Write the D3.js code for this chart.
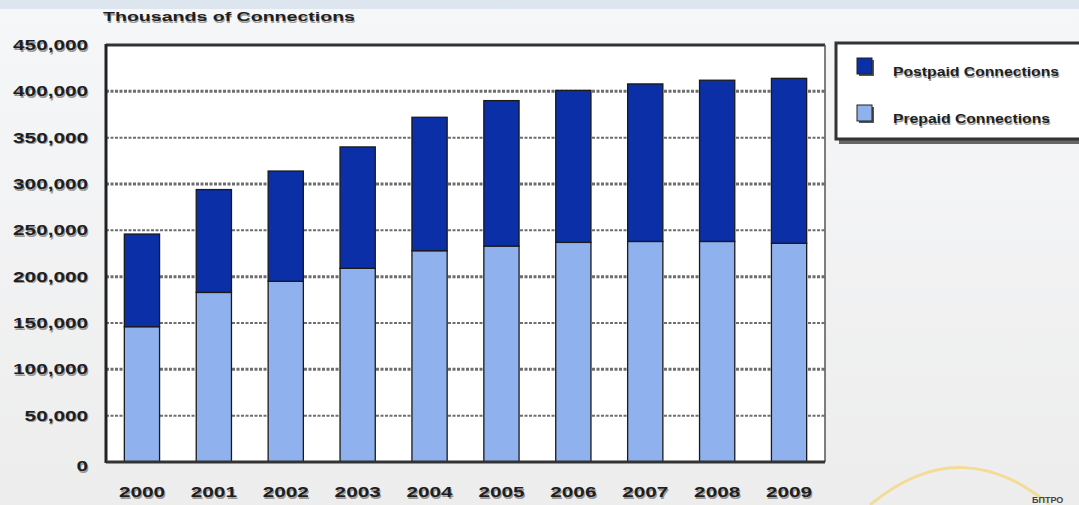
<!DOCTYPE html>
<html><head><meta charset="utf-8">
<script src="https://cdn.jsdelivr.net/npm/d3@7"></script>
<style>body{margin:0;background:#f1f1f1;}svg{display:block;font-family:Arial,"Liberation Sans",sans-serif;}</style>
</head><body><svg id="c" width="1079" height="505"></svg>
<script>
const years = ["2000","2001","2002","2003","2004","2005","2006","2007","2008","2009"];
const prepaid = [146000,183000,195000,209000,228000,233000,237000,238000,238000,236000];
const postpaid = [100000,111000,119000,131000,144000,157000,164000,170000,174000,178000];
const yTicks = [0,50000,100000,150000,200000,250000,300000,350000,400000,450000];
const seriesNames = ["Postpaid Connections","Prepaid Connections"];
const colors = {post:"#0b2fa6", pre:"#8fb1ee"};

const svg = d3.select("#c");
const W=1079,H=505;
const m = {l:106, r:825, t:45, b:462};
const SX = 1.43;

const defs = svg.append("defs");
const g1 = defs.append("linearGradient").attr("id","bg").attr("x1",0).attr("y1",0).attr("x2",0).attr("y2",1);
g1.append("stop").attr("offset","0").attr("stop-color","#f6f7f9");
g1.append("stop").attr("offset","1").attr("stop-color","#ededed");
svg.append("rect").attr("width",W).attr("height",H).attr("fill","url(#bg)");
svg.append("rect").attr("width",W).attr("height",9).attr("fill","#dde5ee");
svg.append("path").attr("d","M870,505 Q960,430 1050,505").attr("fill","none").attr("stroke","#f3dc98").attr("stroke-width",3);
svg.append("text").attr("x",1032).attr("y",503).attr("font-size",9).attr("font-weight","bold").attr("fill","#444").text("БПТРО");

const x = d3.scaleBand().domain(years).range([m.l,m.r]).paddingInner(0.51).paddingOuter(0.255);
const y = d3.scaleLinear().domain([0,450000]).range([m.b,m.t]);

svg.append("rect").attr("x",m.l).attr("y",m.t).attr("width",m.r-m.l).attr("height",m.b-m.t).attr("fill","#ffffff");

svg.append("g").selectAll("line").data(yTicks.filter(d=>d>0 && d<450000)).join("line")
 .attr("x1",m.l).attr("x2",m.r).attr("y1",d=>y(d)).attr("y2",d=>y(d))
 .attr("stroke","#555").attr("stroke-width",d=>(d/50000)%2===0?3:2).attr("stroke-dasharray","3,1.5").attr("opacity",0.85);

const data = years.map((yr,i)=>({yr,pre:prepaid[i],post:postpaid[i]}));
const bars = svg.append("g");
bars.selectAll("rect.pre").data(data).join("rect").attr("class","pre")
 .attr("x",d=>x(d.yr)).attr("width",x.bandwidth())
 .attr("y",d=>y(d.pre)).attr("height",d=>y(0)-y(d.pre))
 .attr("fill",colors.pre).attr("stroke","#1a1a1a").attr("stroke-width",1.3);
bars.selectAll("rect.post").data(data).join("rect").attr("class","post")
 .attr("x",d=>x(d.yr)).attr("width",x.bandwidth())
 .attr("y",d=>y(d.pre+d.post)).attr("height",d=>y(d.pre)-y(d.pre+d.post))
 .attr("fill",colors.post).attr("stroke","#1a1a1a").attr("stroke-width",1.3);

svg.append("line").attr("x1",m.l).attr("x2",m.r).attr("y1",m.t).attr("y2",m.t).attr("stroke","#333").attr("stroke-width",3);
svg.append("line").attr("x1",m.r).attr("x2",m.r).attr("y1",m.t).attr("y2",m.b).attr("stroke","#555").attr("stroke-width",1.5);
svg.append("line").attr("x1",m.l).attr("x2",m.l).attr("y1",m.t-1).attr("y2",m.b+1).attr("stroke","#222").attr("stroke-width",3);
svg.append("line").attr("x1",m.l).attr("x2",m.r).attr("y1",m.b).attr("y2",m.b).attr("stroke","#333").attr("stroke-width",3);

function shadowText(sel){
  sel.each(function(){
    const t = d3.select(this);
    const clone = this.cloneNode(true);
    this.parentNode.insertBefore(clone,this);
    d3.select(clone).attr("fill","#9a9a9a")
      .attr("transform",(t.attr("transform")||"")+" translate(0.7,1.6)");
  });
}

const yAxis = svg.append("g").attr("transform",`translate(${m.l},0)`)
 .call(d3.axisLeft(y).tickValues(yTicks).tickSize(0).tickFormat(d=>d===0?"0":d3.format(",")(d)));
yAxis.select(".domain").remove();
yAxis.selectAll("text").attr("font-size",14.5).attr("font-weight","bold").attr("fill","#1e1e1e")
 .attr("x",-18/SX).attr("transform",`scale(${SX},1)`)
 .attr("dy",(d)=>d===0?"0.6em":"0.32em");
shadowText(yAxis.selectAll("text"));

const xAxis = svg.append("g").attr("transform",`translate(0,${m.b})`)
 .call(d3.axisBottom(x).tickSize(0).tickPadding(25));
xAxis.select(".domain").remove();
xAxis.selectAll("text").attr("font-size",14.5).attr("font-weight","bold").attr("fill","#1e1e1e")
 .attr("transform",`scale(${SX},1)`);
shadowText(xAxis.selectAll("text"));

const title = svg.append("g");
title.append("text").attr("x",103).attr("y",21).attr("font-size",13.5).attr("font-weight","bold").attr("fill","#1e1e1e")
 .attr("textLength",252).attr("lengthAdjust","spacingAndGlyphs").text("Thousands of Connections");
shadowText(title.selectAll("text"));

const lg = svg.append("g");
lg.append("rect").attr("x",839).attr("y",46).attr("width",250).attr("height",98).attr("fill","#666");
lg.append("rect").attr("x",836).attr("y",43).attr("width",250).attr("height",96).attr("fill","#fff").attr("stroke","#333").attr("stroke-width",3);
const lcol=[colors.post,colors.pre];
const lw=[166,157];
seriesNames.forEach((n,i)=>{
  const yy = 58 + i*47;
  lg.append("rect").attr("x",859).attr("y",yy+2).attr("width",15).attr("height",16).attr("fill","#555");
  lg.append("rect").attr("x",857).attr("y",yy).attr("width",15).attr("height",16).attr("fill",lcol[i]).attr("stroke","#222").attr("stroke-width",1);
  const t = lg.append("text").attr("x",893).attr("y",yy+18).attr("font-size",13).attr("font-weight","bold").attr("fill","#1e1e1e")
   .attr("textLength",lw[i]).attr("lengthAdjust","spacingAndGlyphs").text(n);
  shadowText(t);
});
</script></body></html>
